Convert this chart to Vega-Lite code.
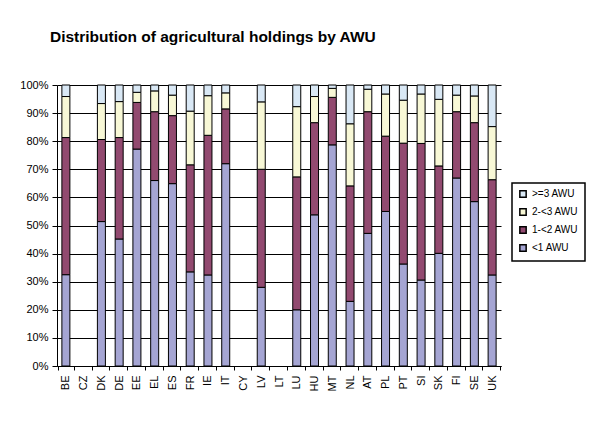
{
  "$schema": "https://vega.github.io/schema/vega-lite/v6.json",
  "autosize": "none",
  "width": 444,
  "height": 281,
  "padding": {"left": 57, "top": 85, "right": 99, "bottom": 65},
  "background": "white",
  "title": {
    "text": "Distribution of agricultural holdings by AWU",
    "anchor": "start",
    "frame": "group",
    "dx": -7,
    "offset": 22,
    "baseline": "alphabetic",
    "font": "Liberation Sans",
    "fontSize": 15.5,
    "fontWeight": "bold",
    "color": "black"
  },
  "config": {
    "view": {"stroke": null},
    "axis": {"labelFont": "Liberation Sans", "labelFontSize": 11, "labelColor": "black"},
    "legend": {"strokeColor": "black", "strokeWidth": 1.5, "padding": 6}
  },
  "data": {
    "values": [
      {"country": "BE", "awu": "<1 AWU", "rank": 1, "share": 32.5}, {"country": "BE", "awu": "1-<2 AWU", "rank": 2, "share": 48.8}, {"country": "BE", "awu": "2-<3 AWU", "rank": 3, "share": 14.6}, {"country": "BE", "awu": ">=3 AWU", "rank": 4, "share": 4.1},
      {"country": "DK", "awu": "<1 AWU", "rank": 1, "share": 51.4}, {"country": "DK", "awu": "1-<2 AWU", "rank": 2, "share": 29.2}, {"country": "DK", "awu": "2-<3 AWU", "rank": 3, "share": 12.8}, {"country": "DK", "awu": ">=3 AWU", "rank": 4, "share": 6.6},
      {"country": "DE", "awu": "<1 AWU", "rank": 1, "share": 45.2}, {"country": "DE", "awu": "1-<2 AWU", "rank": 2, "share": 36.1}, {"country": "DE", "awu": "2-<3 AWU", "rank": 3, "share": 12.8}, {"country": "DE", "awu": ">=3 AWU", "rank": 4, "share": 5.9},
      {"country": "EE", "awu": "<1 AWU", "rank": 1, "share": 77.2}, {"country": "EE", "awu": "1-<2 AWU", "rank": 2, "share": 16.6}, {"country": "EE", "awu": "2-<3 AWU", "rank": 3, "share": 3.6}, {"country": "EE", "awu": ">=3 AWU", "rank": 4, "share": 2.6},
      {"country": "EL", "awu": "<1 AWU", "rank": 1, "share": 66.0}, {"country": "EL", "awu": "1-<2 AWU", "rank": 2, "share": 24.5}, {"country": "EL", "awu": "2-<3 AWU", "rank": 3, "share": 7.4}, {"country": "EL", "awu": ">=3 AWU", "rank": 4, "share": 2.1},
      {"country": "ES", "awu": "<1 AWU", "rank": 1, "share": 64.9}, {"country": "ES", "awu": "1-<2 AWU", "rank": 2, "share": 24.2}, {"country": "ES", "awu": "2-<3 AWU", "rank": 3, "share": 7.3}, {"country": "ES", "awu": ">=3 AWU", "rank": 4, "share": 3.6},
      {"country": "FR", "awu": "<1 AWU", "rank": 1, "share": 33.5}, {"country": "FR", "awu": "1-<2 AWU", "rank": 2, "share": 38.1}, {"country": "FR", "awu": "2-<3 AWU", "rank": 3, "share": 19.1}, {"country": "FR", "awu": ">=3 AWU", "rank": 4, "share": 9.3},
      {"country": "IE", "awu": "<1 AWU", "rank": 1, "share": 32.4}, {"country": "IE", "awu": "1-<2 AWU", "rank": 2, "share": 49.7}, {"country": "IE", "awu": "2-<3 AWU", "rank": 3, "share": 14.1}, {"country": "IE", "awu": ">=3 AWU", "rank": 4, "share": 3.8},
      {"country": "IT", "awu": "<1 AWU", "rank": 1, "share": 72.0}, {"country": "IT", "awu": "1-<2 AWU", "rank": 2, "share": 19.5}, {"country": "IT", "awu": "2-<3 AWU", "rank": 3, "share": 5.7}, {"country": "IT", "awu": ">=3 AWU", "rank": 4, "share": 2.8},
      {"country": "LV", "awu": "<1 AWU", "rank": 1, "share": 28.0}, {"country": "LV", "awu": "1-<2 AWU", "rank": 2, "share": 42.0}, {"country": "LV", "awu": "2-<3 AWU", "rank": 3, "share": 24.0}, {"country": "LV", "awu": ">=3 AWU", "rank": 4, "share": 6.0},
      {"country": "LU", "awu": "<1 AWU", "rank": 1, "share": 20.0}, {"country": "LU", "awu": "1-<2 AWU", "rank": 2, "share": 47.3}, {"country": "LU", "awu": "2-<3 AWU", "rank": 3, "share": 25.0}, {"country": "LU", "awu": ">=3 AWU", "rank": 4, "share": 7.7},
      {"country": "HU", "awu": "<1 AWU", "rank": 1, "share": 53.8}, {"country": "HU", "awu": "1-<2 AWU", "rank": 2, "share": 32.8}, {"country": "HU", "awu": "2-<3 AWU", "rank": 3, "share": 9.3}, {"country": "HU", "awu": ">=3 AWU", "rank": 4, "share": 4.1},
      {"country": "MT", "awu": "<1 AWU", "rank": 1, "share": 78.7}, {"country": "MT", "awu": "1-<2 AWU", "rank": 2, "share": 16.9}, {"country": "MT", "awu": "2-<3 AWU", "rank": 3, "share": 3.2}, {"country": "MT", "awu": ">=3 AWU", "rank": 4, "share": 1.2},
      {"country": "NL", "awu": "<1 AWU", "rank": 1, "share": 23.0}, {"country": "NL", "awu": "1-<2 AWU", "rank": 2, "share": 41.1}, {"country": "NL", "awu": "2-<3 AWU", "rank": 3, "share": 22.1}, {"country": "NL", "awu": ">=3 AWU", "rank": 4, "share": 13.8},
      {"country": "AT", "awu": "<1 AWU", "rank": 1, "share": 47.2}, {"country": "AT", "awu": "1-<2 AWU", "rank": 2, "share": 43.3}, {"country": "AT", "awu": "2-<3 AWU", "rank": 3, "share": 8.0}, {"country": "AT", "awu": ">=3 AWU", "rank": 4, "share": 1.5},
      {"country": "PL", "awu": "<1 AWU", "rank": 1, "share": 55.0}, {"country": "PL", "awu": "1-<2 AWU", "rank": 2, "share": 26.8}, {"country": "PL", "awu": "2-<3 AWU", "rank": 3, "share": 15.0}, {"country": "PL", "awu": ">=3 AWU", "rank": 4, "share": 3.2},
      {"country": "PT", "awu": "<1 AWU", "rank": 1, "share": 36.3}, {"country": "PT", "awu": "1-<2 AWU", "rank": 2, "share": 43.0}, {"country": "PT", "awu": "2-<3 AWU", "rank": 3, "share": 15.3}, {"country": "PT", "awu": ">=3 AWU", "rank": 4, "share": 5.4},
      {"country": "SI", "awu": "<1 AWU", "rank": 1, "share": 30.6}, {"country": "SI", "awu": "1-<2 AWU", "rank": 2, "share": 48.6}, {"country": "SI", "awu": "2-<3 AWU", "rank": 3, "share": 17.6}, {"country": "SI", "awu": ">=3 AWU", "rank": 4, "share": 3.2},
      {"country": "SK", "awu": "<1 AWU", "rank": 1, "share": 40.1}, {"country": "SK", "awu": "1-<2 AWU", "rank": 2, "share": 31.1}, {"country": "SK", "awu": "2-<3 AWU", "rank": 3, "share": 23.7}, {"country": "SK", "awu": ">=3 AWU", "rank": 4, "share": 5.1},
      {"country": "FI", "awu": "<1 AWU", "rank": 1, "share": 66.9}, {"country": "FI", "awu": "1-<2 AWU", "rank": 2, "share": 23.6}, {"country": "FI", "awu": "2-<3 AWU", "rank": 3, "share": 5.9}, {"country": "FI", "awu": ">=3 AWU", "rank": 4, "share": 3.6},
      {"country": "SE", "awu": "<1 AWU", "rank": 1, "share": 58.5}, {"country": "SE", "awu": "1-<2 AWU", "rank": 2, "share": 28.1}, {"country": "SE", "awu": "2-<3 AWU", "rank": 3, "share": 9.5}, {"country": "SE", "awu": ">=3 AWU", "rank": 4, "share": 3.9},
      {"country": "UK", "awu": "<1 AWU", "rank": 1, "share": 32.4}, {"country": "UK", "awu": "1-<2 AWU", "rank": 2, "share": 33.9}, {"country": "UK", "awu": "2-<3 AWU", "rank": 3, "share": 18.9}, {"country": "UK", "awu": ">=3 AWU", "rank": 4, "share": 14.8}
    ]
  },
  "mark": {"type": "bar", "size": 8, "stroke": "black", "strokeWidth": 1},
  "encoding": {
    "x": {
      "field": "country",
      "type": "nominal",
      "sort": null,
      "scale": {"domain": ["BE","CZ","DK","DE","EE","EL","ES","FR","IE","IT","CY","LV","LT","LU","HU","MT","NL","AT","PL","PT","SI","SK","FI","SE","UK"]},
      "axis": {
        "title": null,
        "labelAngle": 270,
        "labelAlign": "right",
        "labelBaseline": "middle",
        "labelPadding": 5,
        "tickBand": "extent",
        "tickSize": 4,
        "tickColor": "black",
        "domainColor": "black",
        "grid": false
      }
    },
    "y": {
      "field": "share",
      "type": "quantitative",
      "stack": "normalize",
      "scale": {"domain": [0, 1]},
      "axis": {
        "title": null,
        "format": ".0%",
        "values": [0, 0.1, 0.2, 0.3, 0.4, 0.5, 0.6, 0.7, 0.8, 0.9, 1],
        "grid": true,
        "gridColor": "black",
        "gridOpacity": 1,
        "tickColor": "black",
        "tickSize": 5,
        "domainColor": "black",
        "labelPadding": 4
      }
    },
    "color": {
      "field": "awu",
      "type": "nominal",
      "scale": {
        "domain": ["<1 AWU", "1-<2 AWU", "2-<3 AWU", ">=3 AWU"],
        "range": ["#a5a5d3", "#924a70", "#f8f8d6", "#d9e8f5"]
      },
      "legend": {
        "title": null,
        "orient": "none",
        "legendX": 455,
        "legendY": 98,
        "values": [">=3 AWU", "2-<3 AWU", "1-<2 AWU", "<1 AWU"],
        "symbolType": "square",
        "symbolSize": 40,
        "symbolStrokeColor": "black",
        "symbolStrokeWidth": 1.5,
        "labelFont": "Liberation Sans",
        "labelFontSize": 10,
        "labelColor": "black",
        "rowPadding": 4,
        "labelLimit": 70
      }
    },
    "order": {"field": "rank", "type": "quantitative", "sort": "ascending"}
  }
}
